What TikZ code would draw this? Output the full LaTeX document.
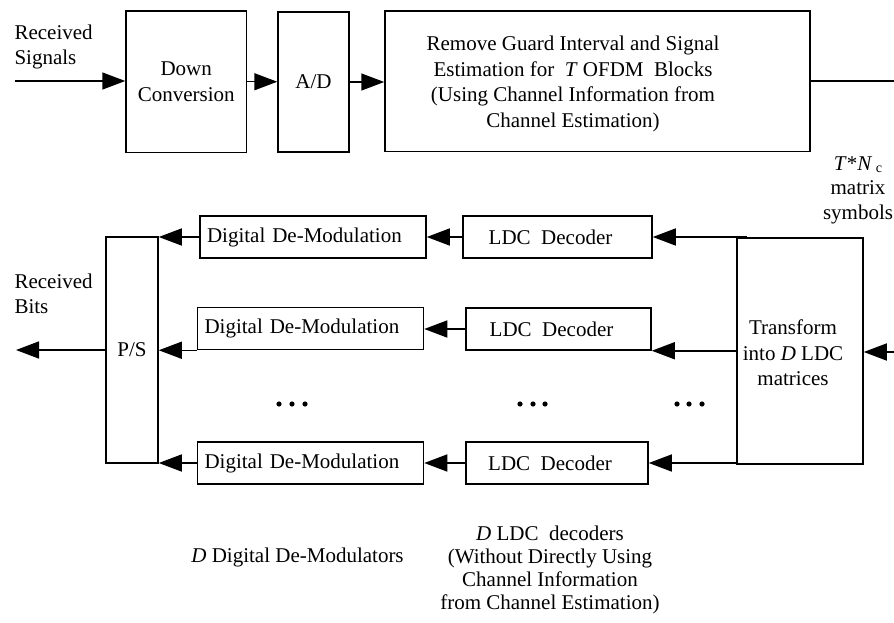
\documentclass[tikz,border=0pt]{standalone}
\usepackage{fontspec}
\setmainfont{Liberation Serif}
\usetikzlibrary{arrows.meta}
\begin{document}
\begin{tikzpicture}[x=1pt,y=-1pt,
  every node/.style={font=\fontsize{21}{25.5}\selectfont},
  box/.style={draw, line width=1.5pt, inner sep=0pt, align=center},
  dmbox/.style={draw, line width=1.5pt, inner xsep=7pt, inner ysep=0pt, text width=212pt, align=left, minimum height=42pt},
  arr/.style={line width=1.5pt, -{Triangle[length=23pt,width=17pt]}},
  ln/.style={line width=1.5pt}]
\useasboundingbox (0,0) rectangle (894,623);

% top row
\node[box, minimum width=120.5pt, minimum height=141.5pt] (dc) at (186.25,81.75) {Down\\Conversion};
\node[box, minimum width=71pt, minimum height=140pt] (ad) at (313.5,82) {A/D};
\node[box, minimum width=425pt, minimum height=140.5pt] (rg) at (597.5,81.5) {};
\node[align=center] (rgt) at (573,84)
 {Remove Guard Interval and Signal\\Estimation for\ \ \textit{T}\ OFDM\ \ Blocks\\(Using Channel Information from\\Channel Estimation)};

% bottom blocks
\node[box, minimum width=52pt, minimum height=226pt] (ps) at (132,350) {P/S};
\node[dmbox] (dm1) at (313,237) {Digital De-Modulation};
\node[dmbox] (dm2) at (310.5,328.5) {Digital De-Modulation};
\node[dmbox] (dm3) at (310.5,463) {Digital De-Modulation};
\node[box, minimum width=189pt, minimum height=42pt] (ldc1) at (557.5,237) {LDC\ \ Decoder\hspace*{14pt}};
\node[box, minimum width=185pt, minimum height=42pt] (ldc2) at (558.5,329) {LDC\ \ Decoder\hspace*{14pt}};
\node[box, minimum width=182pt, minimum height=42pt] (ldc3) at (557,463) {LDC\ \ Decoder\hspace*{14pt}};
\node[box, minimum width=126pt, minimum height=226pt] (tr) at (800,351) {};
\node[align=center] (trt) at (793,353) {Transform\\into \textit{D} LDC\\matrices};

% labels
\node[align=left, anchor=west] (rs) at (11,47) {Received\\Signals};
\node[align=left, anchor=west] (rb) at (11,294) {Received\\Bits};
\node[align=center, font=\fontsize{21}{24.5}\selectfont] (tn) at (858,190)
 {\textit{T}*\textit{N}\,{\fontsize{14}{14}\selectfont\raisebox{-0.3ex}{c}}\\matrix\\symbols};
\node (ddm) at (297.5,557) {\textit{D} Digital De-Modulators};
\node[align=center, font=\fontsize{21}{23}\selectfont] (dld) at (550,570)
 {\textit{D} LDC\ \ decoders\\(Without Directly Using\\Channel Information\\from Channel Estimation)};

% free ends
\coordinate (in) at (15,81);
\coordinate (outtop) at (894,81);
\coordinate (trin) at (894,352);
\coordinate (bits) at (16,350);

% connectors
\draw[arr] (in) -- (in -| dc.west);
\draw[arr] (dc.east) -- (dc.east -| ad.west);
\draw[arr] (ad.east) -- (ad.east -| rg.west);
\draw[ln] (outtop -| rg.east) -- (outtop);
\draw[arr] (trin) -- (trin -| tr.east);
\draw[arr] ([xshift=11pt]tr.north west |- ldc1.east) -- (ldc1.east);
\draw[arr] (tr.west |- ldc2.south east) -- (ldc2.south east);
\draw[arr] (tr.south west |- ldc3.east) -- (ldc3.east);
\draw[arr] (ldc1.west) -- (ldc1.west -| dm1.east);
\draw[arr] (ldc2.west) -- (ldc2.west -| dm2.east);
\draw[arr] (ldc3.west) -- (ldc3.west -| dm3.east);
\draw[arr] (dm1.west) -- (dm1.west -| ps.east);
\draw[arr] (dm2.south west) -- (dm2.south west -| ps.east);
\draw[arr] (dm3.west) -- (dm3.west -| ps.east);
\draw[arr] (ps.west) -- (bits);

% ellipses
\foreach \x in {279,292,305,520,533,545,677,689,702}
  \fill (\x,404) circle (2.6pt);
\end{tikzpicture}
\end{document}
